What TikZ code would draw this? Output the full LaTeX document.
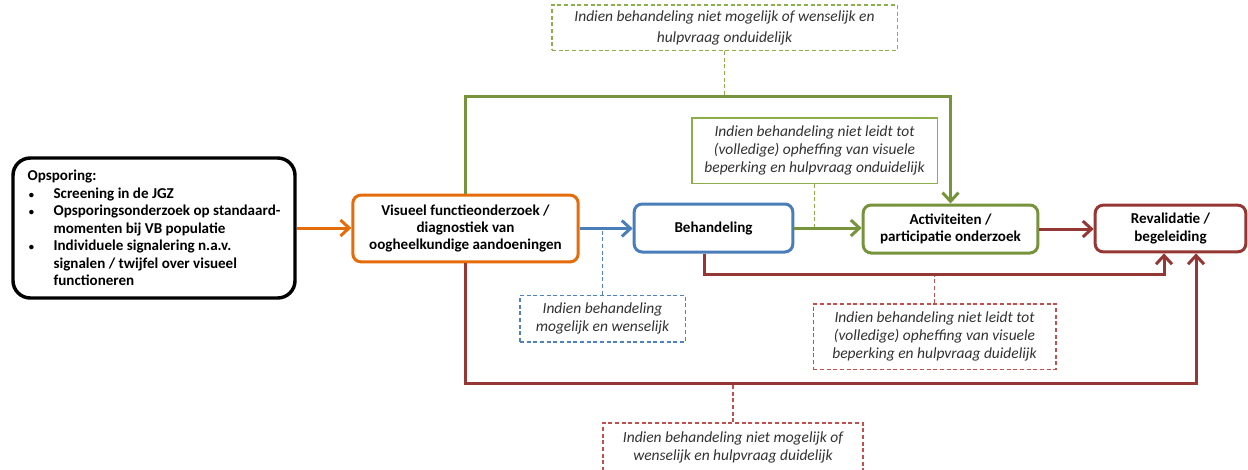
\documentclass[tikz,border=0pt]{standalone}
\usepackage{fontspec}
\setmainfont{Carlito}
\usetikzlibrary{arrows.meta}

\definecolor{vborange}{RGB}{228,108,10}
\definecolor{vbblue}{RGB}{74,126,187}
\definecolor{vbgreen}{RGB}{119,147,60}
\definecolor{vbred}{RGB}{149,55,53}
\definecolor{notegreen}{RGB}{140,175,75}
\definecolor{noteblue}{RGB}{79,129,189}
\definecolor{notered}{RGB}{192,80,77}
\definecolor{notetext}{RGB}{50,50,50}

\newcommand{\opsbul}{\makebox[19.5pt][l]{\hspace{1pt}\scalebox{0.7}{\textbullet}}}
\newcommand{\opsind}{\hspace*{19.5pt}}

\tikzset{
	stap/.style	= {draw, line width=2.25pt, rounded corners=6pt, fill=white, font=\fontsize{11.3}{13.1}\selectfont\bfseries, align=center},
	noot/.style	= {draw, line width=1pt, densely dashed, fill=white, text=notetext, font=\fontsize{11.6}{13.75}\selectfont\itshape, align=center},
	pijl/.style	= {line width=2.25pt, -{Straight Barb[length=6.5pt,width=12pt]}},
	nootlijn/.style	= {line width=1pt, densely dashed},
}

\begin{document}
\begin{tikzpicture}[x=0.75pt, y=-0.75pt]
	\useasboundingbox (0,0) rectangle (1248,469);

	% stappen
	\node (ops) at ( 154,  228)	[stap, draw=black, line width=2.6pt, rounded corners=13pt, minimum width=211.5pt, minimum height=105pt, align=left]
		{Opsporing:\\
		\opsbul Screening in de JGZ\\
		\opsbul Opsporingsonderzoek op standaard-\\
		\opsind momenten bij VB populatie\\
		\opsbul Individuele signalering n.a.v.\\
		\opsind signalen / twijfel over visueel\\
		\opsind functioneren};
	\node (vis) at ( 465.5,  228.5)	[stap, draw=vborange, minimum width=169pt, minimum height=50pt]	{Visueel functieonderzoek /\\ diagnostiek van\\ oogheelkundige aandoeningen};
	\node (beh) at ( 713.5,  228)	[stap, draw=vbblue, minimum width=119pt, minimum height=36pt]	{Behandeling};
	\node (act) at ( 950.5,  229)	[stap, draw=vbgreen, minimum width=131pt, minimum height=36pt]	{Activiteiten /\\ participatie onderzoek};
	\node (rev) at (1170.5,  228.5)	[stap, draw=vbred, minimum width=113pt, minimum height=35pt]	{Revalidatie /\\ begeleiding};

	% toelichtingen
	\node (nt) at ( 724.5,   27.5)	[noot, draw=notegreen, minimum width=259pt, minimum height=34pt]	{Indien behandeling niet mogelijk of wenselijk en\\[2pt] hulpvraag onduidelijk};
	\node (nm) at ( 814.5,  150.5)	[noot, solid, draw=notegreen, minimum width=184pt, minimum height=49pt]	{Indien behandeling niet leidt tot\\ (volledige) opheffing van visuele\\ beperking en hulpvraag onduidelijk};
	\node (nb) at ( 602.5,  318.5)	[noot, draw=noteblue, minimum width=124pt, minimum height=35pt]	{Indien behandeling\\ mogelijk en wenselijk};
	\node (nr) at ( 934.5,  336.5)	[noot, draw=notered, minimum width=182pt, minimum height=49pt]	{Indien behandeling niet leidt tot\\ (volledige) opheffing van visuele\\ beperking en hulpvraag duidelijk};
	\node (nrb) at ( 733,  447.5)	[noot, draw=notered, minimum width=195pt, minimum height=37pt]	{Indien behandeling niet mogelijk of\\ wenselijk en hulpvraag duidelijk};

	\coordinate (gtop) at ( 950.5,   96);
	\coordinate (rmid) at (1164,  274);
	\coordinate (rlow) at (1196,  383);

	\draw[nootlijn, notegreen] (nt.south) -- (nt.south |- gtop);
	\draw[nootlijn, notegreen] (nm.south) -- (nm.south |- act.west);
	\draw[nootlijn, noteblue] (nb.north) -- (nb.north |- vis.east);
	\draw[nootlijn, notered] (nr.north) -- (nr.north |- rmid);
	\draw[nootlijn, notered] (nrb.north) -- (nrb.north |- rlow);

	\draw[pijl, vborange] (ops.east) -- (ops.east -| vis.west);
	\draw[pijl, vbblue] (vis.east) -- (vis.east -| beh.west);
	\draw[pijl, vbgreen] (beh.east) -- (beh.east -| act.west);
	\draw[pijl, vbred] (act.east) -- (act.east -| rev.west);
	\draw[pijl, vbgreen] (vis.north) |- (gtop) -- (act.north);
	\draw[pijl, vbred] ([xshift=-7pt]beh.south) |- (rmid) -- (rmid |- rev.south);
	\draw[pijl, vbred] (vis.south) |- (rlow) -- (rlow |- rev.south);
\end{tikzpicture}
\end{document}
